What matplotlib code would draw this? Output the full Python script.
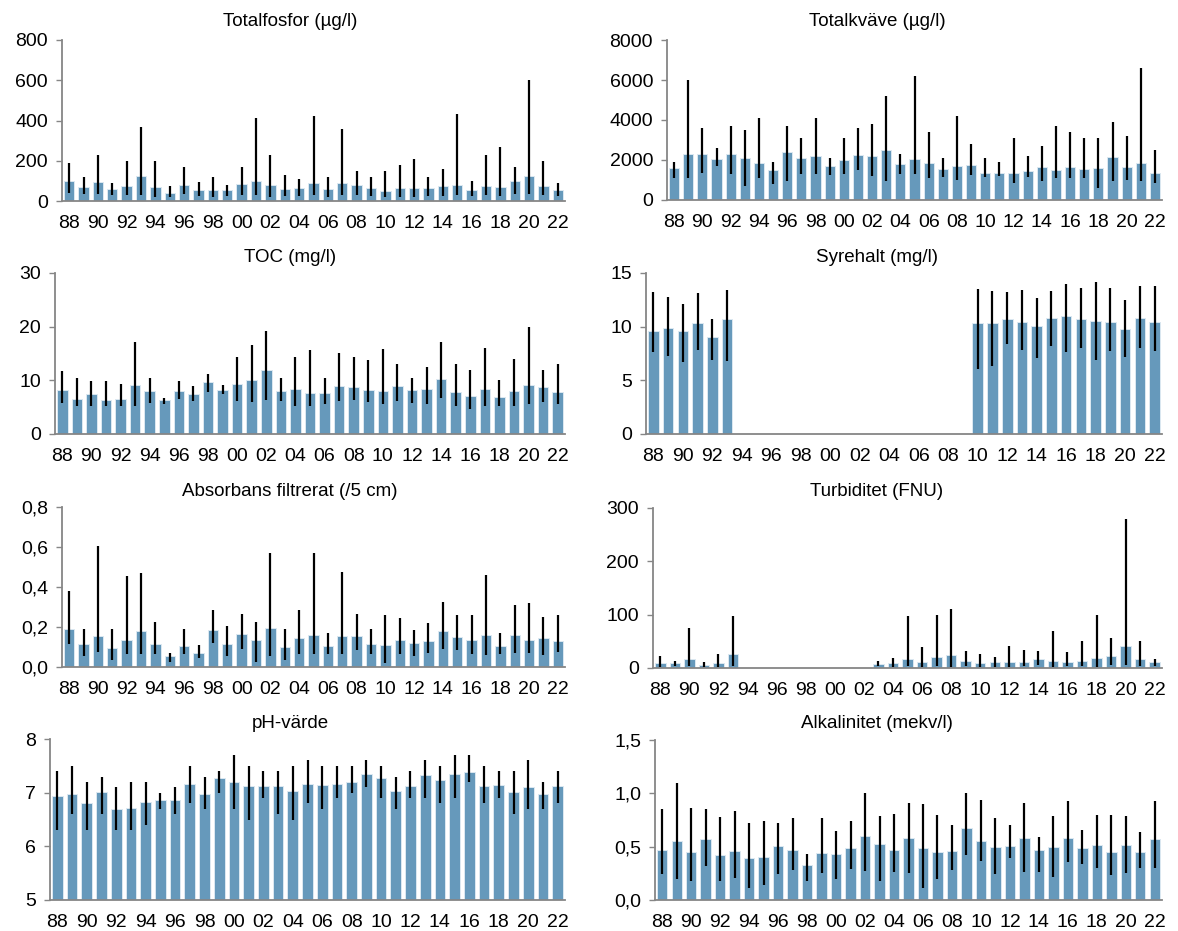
import numpy as np
import matplotlib
matplotlib.use("Agg")
import matplotlib.pyplot as plt
from matplotlib.ticker import FuncFormatter, MultipleLocator

plt.rcParams['font.family'] = ['Liberation Sans', 'DejaVu Sans']

years = list(range(1988, 2023))
year_labels = [f"{y % 100:02d}" for y in years]

# Totalfosfor (µg/l): yearly mean, min, max
tp_mean = [98, 72, 92, 60, 77, 126, 72, 38, 78, 55, 57, 55, 82, 98, 80, 60, 63, 90, 58, 88,
           78, 63, 50, 67, 63, 67, 73, 78, 55, 76, 70, 100, 122, 76, 54]
tp_min = [40, 35, 35, 30, 30, 30, 20, 20, 35, 25, 20, 25, 30, 30, 20, 25, 25, 30, 20, 30,
          30, 25, 20, 20, 20, 25, 25, 30, 25, 30, 25, 35, 35, 30, 25]
tp_max = [190, 120, 230, 90, 200, 370, 200, 75, 170, 95, 120, 80, 170, 410, 230, 130, 110, 420, 120, 360,
          150, 120, 150, 180, 210, 120, 160, 430, 100, 230, 270, 170, 600, 200, 90]

# Totalkväve (µg/l)
tn_mean = [1580, 2280, 2320, 2050, 2280, 2080, 1870, 1500, 2400, 2100, 2180, 1700, 2020, 2250, 2180, 2520,
           1800, 2060, 1830, 1550, 1720, 1730, 1370, 1350, 1350, 1450, 1670, 1500, 1670, 1570, 1620, 2150,
           1650, 1850, 1350]
tn_min = [1100, 1100, 1350, 1700, 1300, 700, 1100, 800, 950, 1300, 1300, 1250, 1300, 1500, 1200, 950,
          1300, 1300, 1100, 1150, 1000, 1250, 1150, 1200, 850, 1150, 950, 1100, 1100, 1100, 600, 950,
          1000, 950, 850]
tn_max = [1900, 6000, 3600, 2600, 3700, 3500, 4100, 1900, 3700, 3100, 4100, 2100, 3100, 3600, 3800, 5200,
          2300, 6200, 3400, 2100, 4200, 2800, 2100, 1900, 3100, 2200, 2700, 3700, 3400, 3100, 3100, 3900,
          3200, 6600, 2500]

# TOC (mg/l)
toc_mean = [8.2, 6.6, 7.5, 6.4, 6.6, 9.1, 8.0, 6.3, 8.0, 7.4, 9.7, 8.2, 9.3, 10.0, 12.0, 8.0, 8.3, 7.6,
            7.6, 8.9, 8.8, 8.2, 8.1, 8.9, 8.2, 8.4, 10.3, 7.9, 7.1, 8.4, 6.9, 8.1, 9.1, 8.8, 7.8]
toc_min = [5.8, 5.2, 5.2, 5.2, 5.2, 5.2, 5.8, 5.6, 6.5, 6.2, 7.8, 7.5, 6.2, 5.9, 6.3, 6.1, 5.3, 5.3,
           5.6, 6.1, 6.3, 5.9, 5.5, 6.1, 5.8, 5.5, 6.8, 5.2, 4.7, 5.2, 5.3, 5.3, 5.5, 5.9, 5.5]
toc_max = [11.8, 10.4, 9.8, 9.8, 9.3, 17.1, 10.4, 6.8, 9.8, 9.0, 11.1, 9.1, 14.3, 16.5, 19.1, 10.4, 14.3,
           15.7, 10.4, 15.1, 14.3, 13.8, 15.8, 13.0, 10.4, 12.4, 17.1, 13.0, 12.0, 16.0, 10.0, 14.0, 20.0,
           12.0, 13.0]

# Syrehalt (mg/l), not measured 1994-2009
nan = np.nan
o2_mean = [9.6, 9.9, 9.55, 10.3, 9.0, 10.7] + [nan] * 16 + \
          [10.3, 10.3, 10.7, 10.45, 10.1, 10.8, 11.0, 10.7, 10.5, 10.45, 9.8, 10.85, 10.4]
o2_min = [7.6, 7.3, 6.75, 7.8, 6.9, 6.8] + [nan] * 16 + \
         [6.1, 6.3, 8.4, 7.8, 7.1, 8.2, 7.6, 8.0, 6.9, 7.7, 7.2, 8.0, 7.7]
o2_max = [13.2, 12.8, 12.1, 13.1, 10.7, 13.4] + [nan] * 16 + \
         [13.5, 13.3, 13.2, 13.4, 12.7, 13.3, 14.0, 13.6, 14.2, 13.6, 12.5, 13.8, 13.8]

# Absorbans filtrerat (/5 cm)
abs_mean = [0.19, 0.117, 0.154, 0.095, 0.137, 0.18, 0.115, 0.055, 0.104, 0.072, 0.186, 0.115, 0.164,
            0.136, 0.197, 0.10, 0.144, 0.162, 0.105, 0.157, 0.154, 0.114, 0.11, 0.136, 0.12, 0.129,
            0.181, 0.149, 0.136, 0.159, 0.107, 0.161, 0.136, 0.146, 0.13]
abs_min = [0.114, 0.055, 0.075, 0.037, 0.067, 0.067, 0.067, 0.027, 0.067, 0.044, 0.12, 0.055, 0.092,
           0.027, 0.055, 0.037, 0.067, 0.067, 0.067, 0.067, 0.085, 0.067, 0.022, 0.064, 0.054, 0.072,
           0.092, 0.085, 0.067, 0.06, 0.064, 0.072, 0.07, 0.06, 0.075]
abs_max = [0.378, 0.19, 0.606, 0.19, 0.455, 0.472, 0.226, 0.072, 0.19, 0.109, 0.285, 0.206, 0.263,
           0.224, 0.57, 0.19, 0.285, 0.57, 0.169, 0.474, 0.264, 0.19, 0.26, 0.243, 0.186, 0.22,
           0.323, 0.258, 0.258, 0.46, 0.169, 0.308, 0.318, 0.248, 0.26]

# Turbiditet (FNU), not measured 1994-2002
turb_mean = [10, 9, 16, 6, 9, 26] + [nan] * 9 + \
            [8, 10, 16, 11, 21, 24, 13, 9, 11, 12, 12, 17, 14, 12, 14, 19, 22, 42, 16, 12]
turb_min = [2.5, 4, 4, 2.5, 2.5, 4] + [nan] * 9 + \
           [4, 2.5, 4, 2.5, 4, 2.5, 4, 2.5, 2.5, 2.5, 4, 5, 2, 4, 4, 2.5, 5, 6, 4, 4]
turb_max = [22, 13, 75, 12, 27, 98] + [nan] * 9 + \
           [14, 18, 97, 40, 100, 110, 31, 27, 20, 41, 33, 32, 70, 30, 50, 100, 57, 280, 50, 17]

# pH-värde
ph_mean = [6.94, 6.98, 6.81, 7.01, 6.69, 6.71, 6.82, 6.87, 6.87, 7.17, 6.98, 7.27, 7.19, 7.13, 7.13,
           7.13, 7.03, 7.16, 7.14, 7.17, 7.20, 7.34, 7.28, 7.03, 7.13, 7.32, 7.23, 7.34, 7.38, 7.12,
           7.14, 7.02, 7.10, 6.98, 7.12]
ph_min = [6.3, 6.6, 6.3, 6.6, 6.3, 6.3, 6.4, 6.7, 6.6, 6.8, 6.7, 7.0, 6.7, 6.5, 6.9, 6.6, 6.5, 6.8,
          6.7, 6.9, 7.0, 7.1, 6.9, 6.7, 6.9, 6.9, 6.8, 6.9, 7.2, 6.8, 6.9, 6.6, 6.7, 6.7, 6.8]
ph_max = [7.4, 7.5, 7.2, 7.3, 7.1, 7.2, 7.2, 7.0, 7.1, 7.5, 7.3, 7.4, 7.7, 7.5, 7.4, 7.4, 7.5, 7.6,
          7.5, 7.5, 7.5, 7.6, 7.5, 7.3, 7.4, 7.6, 7.5, 7.7, 7.7, 7.5, 7.4, 7.4, 7.6, 7.2, 7.4]

# Alkalinitet (mekv/l)
alk_mean = [0.466, 0.55, 0.447, 0.569, 0.425, 0.463, 0.394, 0.406, 0.51, 0.472, 0.325, 0.444, 0.428,
            0.49, 0.60, 0.525, 0.466, 0.584, 0.484, 0.45, 0.46, 0.678, 0.556, 0.494, 0.51, 0.578,
            0.469, 0.50, 0.58, 0.484, 0.52, 0.447, 0.512, 0.45, 0.572]
alk_min = [0.24, 0.20, 0.178, 0.32, 0.178, 0.21, 0.11, 0.14, 0.24, 0.28, 0.18, 0.25, 0.197, 0.29, 0.27,
           0.178, 0.266, 0.25, 0.11, 0.20, 0.28, 0.42, 0.37, 0.24, 0.39, 0.26, 0.26, 0.22, 0.36, 0.34,
           0.30, 0.23, 0.25, 0.30, 0.30]
alk_max = [0.85, 1.10, 0.866, 0.85, 0.775, 0.83, 0.72, 0.74, 0.72, 0.766, 0.43, 0.766, 0.65, 0.74, 1.00,
           0.79, 0.81, 0.906, 0.897, 0.797, 0.70, 1.00, 0.94, 0.766, 0.70, 0.906, 0.59, 0.79, 0.93,
           0.656, 0.80, 0.80, 0.79, 0.64, 0.93]

BAR = '#6699bb'
EDGE = '#dce8f1'
AXIS = '#868686'
TICK_FS = 14
TITLE_FS = 13.5

W, H = 1178, 931
fig = plt.figure(figsize=(W / 100, H / 100), dpi=100)


def comma(v, _):
    return f"{v:.1f}".replace('.', ',')


panels = [
    # title, mean, min, max, ylim, step, formatter, axes box in px (left, right, top, bottom), title centre
    ("Totalfosfor (µg/l)", tp_mean, tp_min, tp_max, (0, 800), 200, None, (62, 565, 40, 201), (290, 22)),
    ("Totalkväve (µg/l)", tn_mean, tn_min, tn_max, (0, 8000), 2000, None, (667, 1162, 40, 200), (877, 22)),
    ("TOC (mg/l)", toc_mean, toc_min, toc_max, (0, 30), 10, None, (55, 565, 273, 434), (290, 257)),
    ("Syrehalt (mg/l)", o2_mean, o2_min, o2_max, (0, 15), 5, None, (646, 1162, 273, 434), (877, 257)),
    ("Absorbans filtrerat (/5 cm)", abs_mean, abs_min, abs_max, (0, 0.8), 0.2, comma, (62, 565, 507, 667), (290, 492)),
    ("Turbiditet (FNU)", turb_mean, turb_min, turb_max, (0, 300), 100, None, (653, 1162, 508, 668), (877, 492)),
    ("pH-värde", ph_mean, ph_min, ph_max, (5, 8), 1, None, (50, 565, 739, 900), (290, 724)),
    ("Alkalinitet (mekv/l)", alk_mean, alk_min, alk_max, (0, 1.5), 0.5, comma, (655, 1162, 740, 900), (877, 724)),
]

x = np.arange(len(years))
for title, mean, lo, hi, ylim, step, fmt, box, tpos in panels:
    l, r, t, b = box
    ax = fig.add_axes([l / W, 1 - b / H, (r - l) / W, (b - t) / H])
    mean = np.asarray(mean, dtype=float)
    lo = np.asarray(lo, dtype=float)
    hi = np.asarray(hi, dtype=float)
    ok = ~np.isnan(mean)
    base = ylim[0]
    ax.bar(x[ok], mean[ok] - base, bottom=base, width=0.72, color=BAR, edgecolor=EDGE, linewidth=0.7, zorder=2)
    ax.vlines(x[ok], lo[ok], hi[ok], color='black', linewidth=1.6, zorder=3)
    ax.set_xlim(-0.5, len(years) - 0.5)
    ax.set_ylim(*ylim)
    ax.yaxis.set_major_locator(MultipleLocator(step))
    if fmt is not None:
        ax.yaxis.set_major_formatter(FuncFormatter(fmt))
    ax.set_xticks(x[::2])
    ax.set_xticklabels(year_labels[::2])
    for side in ('top', 'right'):
        ax.spines[side].set_visible(False)
    for side in ('left', 'bottom'):
        ax.spines[side].set_color(AXIS)
        ax.spines[side].set_linewidth(1.3)
    ax.spines['bottom'].set_zorder(4)
    ax.tick_params(axis='y', direction='out', length=4, width=1.0, color=AXIS, labelsize=TICK_FS, pad=6)
    ax.tick_params(axis='x', length=0, labelsize=TICK_FS, pad=10)
    ax.patch.set_alpha(0)
    fig.text(tpos[0] / W, 1 - tpos[1] / H, title, ha='center', va='center', fontsize=TITLE_FS)

fig.savefig("out.png", dpi=100)
